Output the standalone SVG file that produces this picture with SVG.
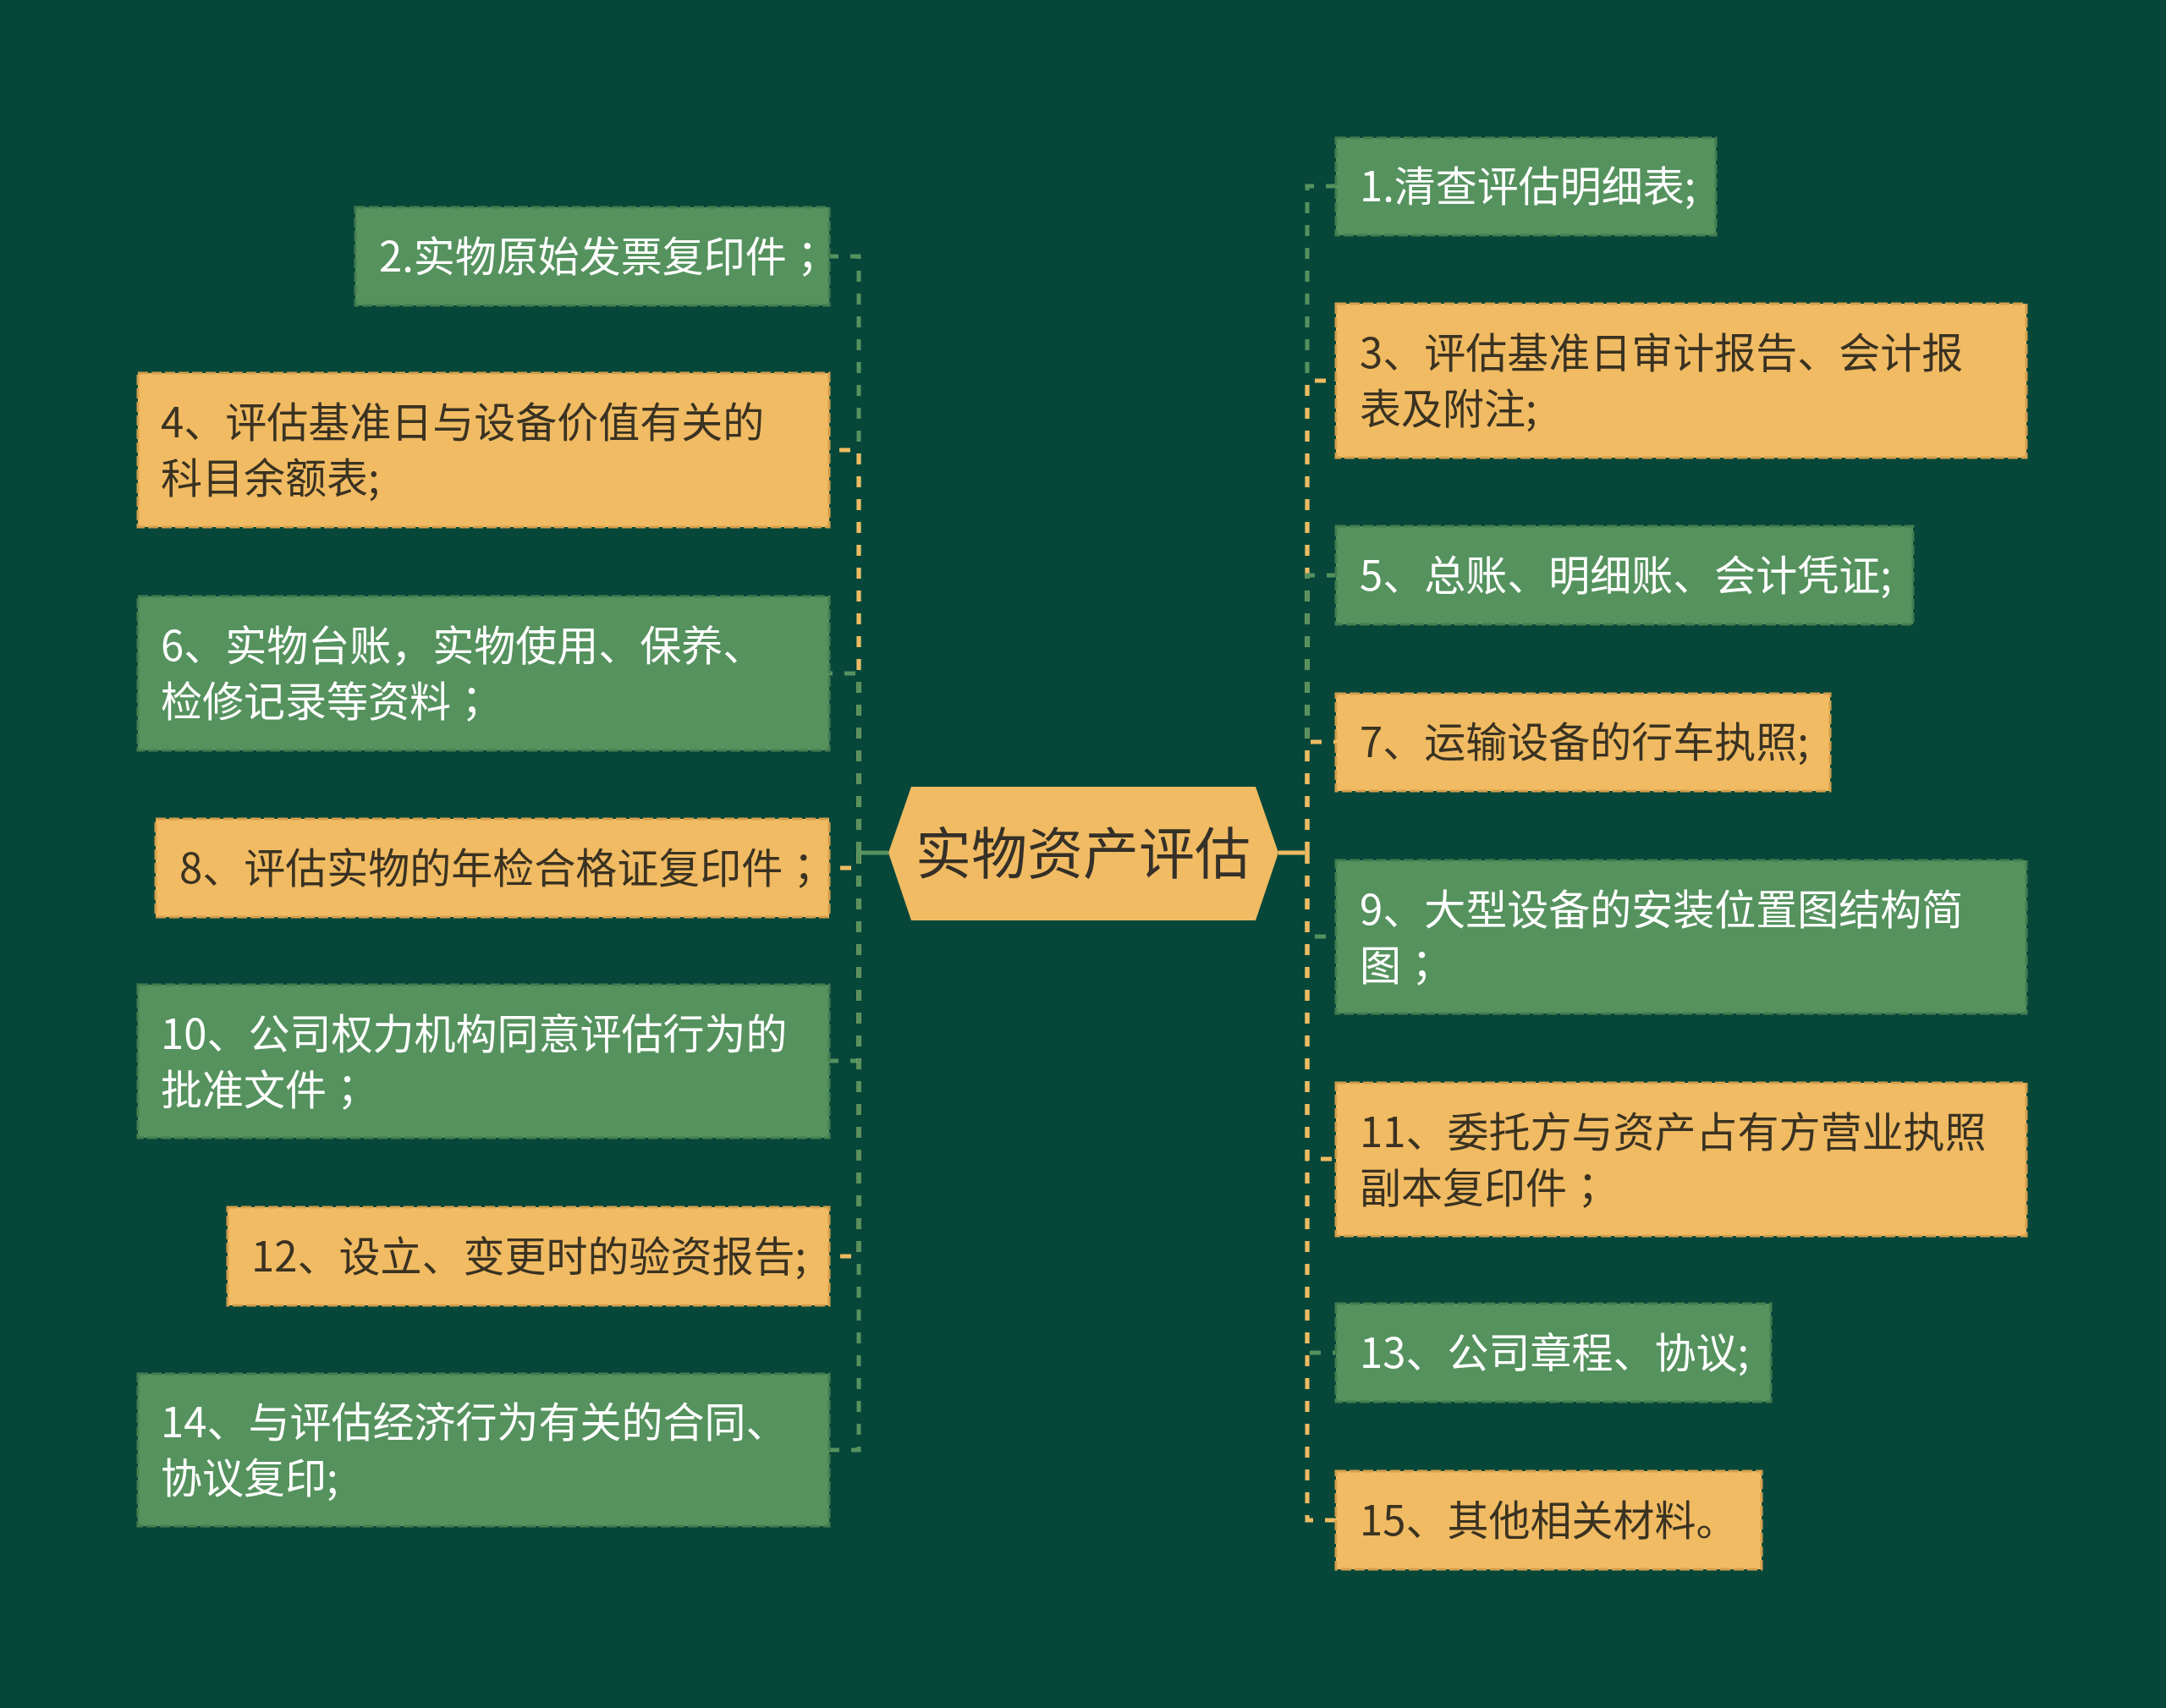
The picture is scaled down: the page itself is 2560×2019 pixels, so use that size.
<svg xmlns="http://www.w3.org/2000/svg" width="2560" height="2019" viewBox="0 0 2560 2019">
<style>
.bg{fill:#07473a}
.ng rect{fill:#55925e;stroke:#447d4f;stroke-width:3;stroke-dasharray:12 4}
.ny rect{fill:#f0bb62;stroke:#d49f4c;stroke-width:3;stroke-dasharray:12 4}
text{font-family:"Noto Sans CJK SC","Noto Sans",sans-serif;font-size:49px}
.sc{font-family:"Noto Sans CJK TC","Noto Sans CJK SC",sans-serif}
.ng text{fill:#ffffff}
.ny text{fill:#3a3222}
.root polygon{fill:#f0bb62}
.root text{fill:#353028;font-size:66px;text-anchor:middle}
.cg{fill:none;stroke:#55925e;stroke-width:5;stroke-dasharray:13 14}
.cy{fill:none;stroke:#f0bb62;stroke-width:5;stroke-dasharray:13 14}
</style>
<rect class="bg" x="0" y="0" width="2560" height="2019"/>
<g id="connectors">
<line x1="1013" y1="1008" x2="1050" y2="1008" stroke="#55925e" stroke-width="5"/>
<line x1="1511" y1="1008" x2="1547" y2="1008" stroke="#f0bb62" stroke-width="5"/>
<path class="cg" d="M1015 1008 V303 H980"/>
<path class="cy" d="M1015 1008 V532 H980"/>
<path class="cg" d="M1015 1008 V796 H980"/>
<path class="cy" d="M1015 1008 V1026 H980"/>
<path class="cg" d="M1015 1008 V1254 H980"/>
<path class="cy" d="M1015 1008 V1485 H980"/>
<path class="cg" d="M1015 1008 V1714 H980"/>
<path class="cg" d="M1545 1008 V220 H1579"/>
<path class="cy" d="M1545 1008 V450 H1579"/>
<path class="cg" d="M1545 1008 V680 H1579"/>
<path class="cy" d="M1545 1008 V877 H1579"/>
<path class="cg" d="M1545 1008 V1107 H1579"/>
<path class="cy" d="M1545 1008 V1370 H1579"/>
<path class="cg" d="M1545 1008 V1599 H1579"/>
<path class="cy" d="M1545 1008 V1797 H1579"/>
</g>
<g id="root" class="root">
<polygon points="1050,1008 1077,930 1484,930 1511,1008 1484,1088 1077,1088"/>
<text x="1280" y="1033">实物资产评估</text>
</g>
<g id="n1" class="ng"><rect x="1579" y="163" width="449" height="115"/><text x="1607" y="238">1.清查评估明细表;</text></g>
<g id="n3" class="ny"><rect x="1579" y="359" width="816" height="182"/><text x="1607" y="435">3、评估基准日审计报告、会计报</text><text x="1607" y="501">表及附注;</text></g>
<g id="n5" class="ng"><rect x="1579" y="622" width="682" height="116"/><text x="1607" y="698">5、总账、明细账、会计凭证;</text></g>
<g id="n7" class="ny"><rect x="1579" y="820" width="584" height="115"/><text x="1607" y="895">7、运输设备的行车执照;</text></g>
<g id="n9" class="ng"><rect x="1579" y="1017" width="816" height="181"/><text x="1607" y="1093">9、大型设备的安装位置图结构简</text><text x="1607" y="1159">图<tspan class="sc">；</tspan></text></g>
<g id="n11" class="ny"><rect x="1579" y="1280" width="816" height="181"/><text x="1607" y="1356">11、委托方与资产占有方营业执照</text><text x="1607" y="1422">副本复印件<tspan class="sc">；</tspan></text></g>
<g id="n13" class="ng"><rect x="1579" y="1541" width="514" height="116"/><text x="1607" y="1617">13、公司章程、协议;</text></g>
<g id="n15" class="ny"><rect x="1579" y="1739" width="503" height="116"/><text x="1607" y="1815">15、其他相关材料。</text></g>
<g id="n2" class="ng"><rect x="420" y="245" width="560" height="116"/><text x="448" y="321">2.实物原始发票复印件<tspan class="sc">；</tspan></text></g>
<g id="n4" class="ny"><rect x="163" y="441" width="817" height="182"/><text x="190" y="517">4、评估基准日与设备价值有关的</text><text x="190" y="583">科目余额表;</text></g>
<g id="n6" class="ng"><rect x="163" y="705" width="817" height="182"/><text x="190" y="781">6、实物台账，实物使用、保养、</text><text x="190" y="847">检修记录等资料<tspan class="sc">；</tspan></text></g>
<g id="n8" class="ny"><rect x="184" y="968" width="796" height="116"/><text x="212" y="1044">8、评估实物的年检合格证复印件<tspan class="sc">；</tspan></text></g>
<g id="n10" class="ng"><rect x="163" y="1164" width="817" height="181"/><text x="190" y="1240">10、公司权力机构同意评估行为的</text><text x="190" y="1306">批准文件<tspan class="sc">；</tspan></text></g>
<g id="n12" class="ny"><rect x="269" y="1427" width="711" height="116"/><text x="297" y="1503">12、设立、变更时的验资报告;</text></g>
<g id="n14" class="ng"><rect x="163" y="1624" width="817" height="180"/><text x="190" y="1699">14、与评估经济行为有关的合同、</text><text x="190" y="1765">协议复印;</text></g>
</svg>
